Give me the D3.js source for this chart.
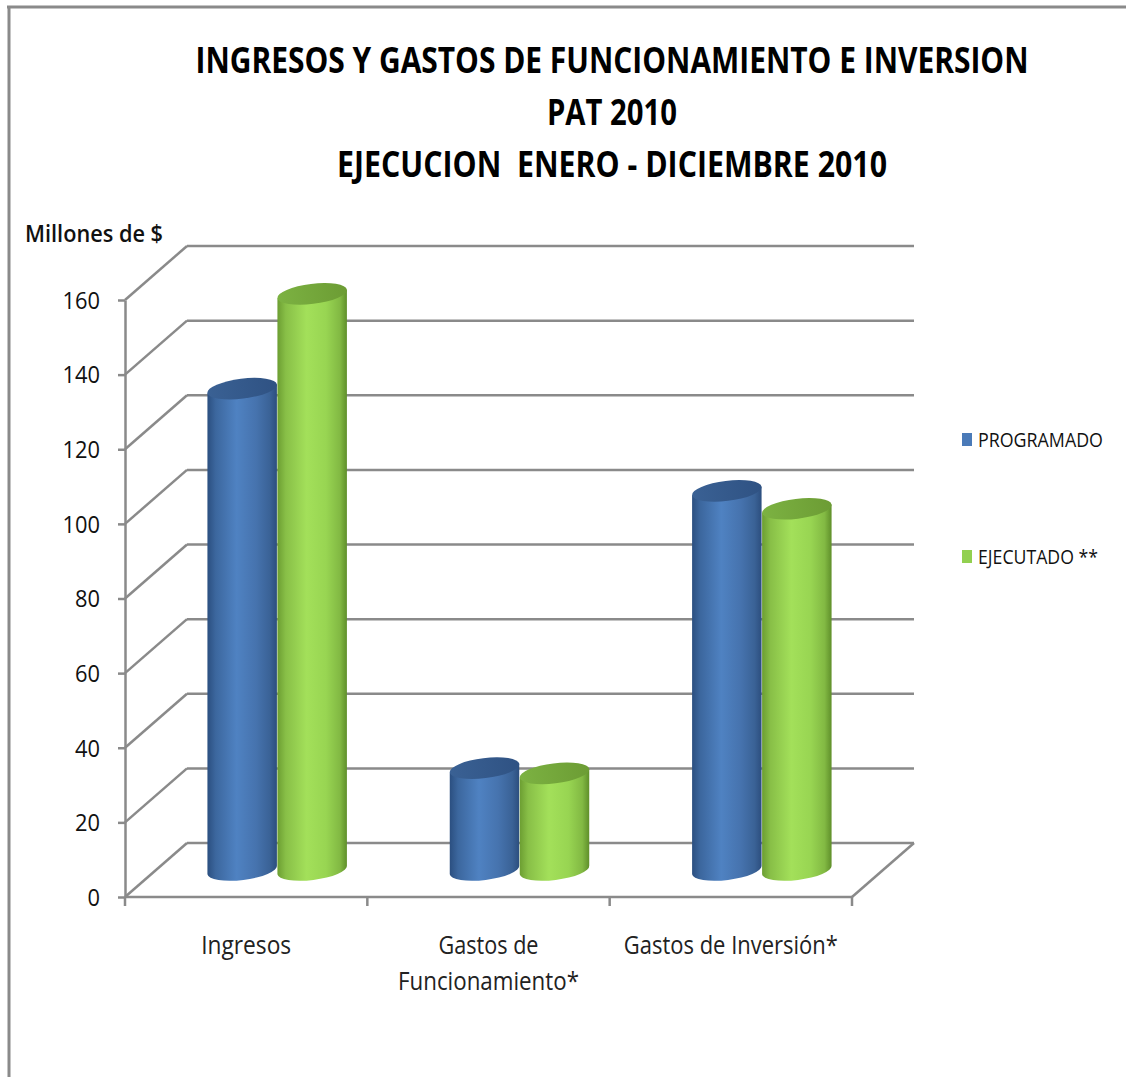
<!DOCTYPE html>
<html><head><meta charset="utf-8">
<script src="https://cdn.jsdelivr.net/npm/d3@7"></script>
<style>body{margin:0;background:#fff}svg{display:block}text{white-space:pre}</style>
</head><body>
<script>
// ---- data ----
const categories = ["Ingresos", "Gastos de Funcionamiento*", "Gastos de Inversión*"];
const categoryLines = [["Ingresos"], ["Gastos de", "Funcionamiento*"], ["Gastos de Inversión*"]];
const seriesNames = ["PROGRAMADO", "EJECUTADO **"];
const programado = [129, 27.3, 101.6];
const ejecutado = [154.4, 25.9, 96.8];
const yTicks = [0, 20, 40, 60, 80, 100, 120, 140, 160];
const titleLines = ["INGRESOS Y GASTOS DE FUNCIONAMIENTO E INVERSION", "PAT 2010", "EJECUCION  ENERO - DICIEMBRE 2010"];
const yAxisTitle = "Millones de $";

const W = 1126, H = 1077;
const svg = d3.select("body").append("svg").attr("width", W).attr("height", H);
const defs = svg.append("defs");

// 3D geometry
const depth = {dx: 62, dy: -54};
const y = d3.scaleLinear().domain([0, 160]).range([897, 300]);
const x = d3.scaleBand().domain(categories).range([125, 852]).padding(0);
const seriesX = d3.scaleBand().domain(seriesNames).range([-70, 70]).padding(0);
const gridColor = "#8a8a8a";
const font = "'Open Sans', 'Noto Sans', sans-serif";

// helper: text with vertical stretch and fixed width
function stretchText(g, str, px, py, size, sy, width, opts = {}) {
  const t = g.append("text")
    .attr("transform", `translate(${px},${py}) scale(1,${sy})`)
    .attr("x", 0).attr("y", 0)
    .attr("font-family", font).attr("font-size", size)
    .attr("font-weight", opts.weight || "normal")
    .attr("text-anchor", opts.anchor || "start")
    .attr("fill", opts.fill || "#111")
    .text(str);
  if (width) t.attr("textLength", width).attr("lengthAdjust", "spacingAndGlyphs");
  return t;
}

// border
svg.append("line").attr("x1", 7).attr("x2", W).attr("y1", 7).attr("y2", 7).attr("stroke", "#8a8a8a").attr("stroke-width", 3);
svg.append("line").attr("x1", 9).attr("x2", 9).attr("y1", 6).attr("y2", H).attr("stroke", "#8a8a8a").attr("stroke-width", 3);

// title
const titleY = [73, 125, 177];
const titleW = [833, 130, 550];
const tg = svg.append("g");
titleLines.forEach((t, i) => stretchText(tg, t, 612, titleY[i], 28, 1.28, titleW[i], {weight: "bold", anchor: "middle", fill: "#000"}));

// y axis title
stretchText(svg, yAxisTitle, 25, 242, 19, 1.2, 138, {weight: "600"});

const x0 = x.range()[0], x1 = x.range()[1];
const grid = svg.append("g").attr("fill", "none").attr("stroke", gridColor).attr("stroke-width", 2.5);
// back wall gridlines
grid.selectAll(".bg").data(yTicks).join("line")
  .attr("x1", x0 + depth.dx).attr("x2", x1 + depth.dx)
  .attr("y1", d => y(d) + depth.dy).attr("y2", d => y(d) + depth.dy);
// side wall diagonals
grid.selectAll(".sd").data(yTicks).join("line")
  .attr("x1", x0).attr("x2", x0 + depth.dx)
  .attr("y1", d => y(d)).attr("y2", d => y(d) + depth.dy);
// floor right edge
grid.append("line").attr("x1", x1).attr("y1", y(0)).attr("x2", x1 + depth.dx).attr("y2", y(0) + depth.dy);
// floor front edge
grid.append("line").attr("x1", x0).attr("y1", y(0)).attr("x2", x1).attr("y2", y(0));

// y axis
const yAxis = svg.append("g").attr("transform", `translate(${x0},0)`)
  .call(d3.axisLeft(y).tickValues(yTicks).tickSize(7).tickPadding(18).tickSizeOuter(0));
yAxis.select(".domain").attr("stroke", gridColor).attr("stroke-width", 2.5);
yAxis.selectAll(".tick line").attr("stroke", gridColor).attr("stroke-width", 2.5);
yAxis.selectAll(".tick text").attr("font-family", font).attr("font-size", 23).attr("fill", "#111")
  .attr("dy", "0.36em")
  .attr("textLength", d => String(d).length * 12.5).attr("lengthAdjust", "spacingAndGlyphs");

// category tick marks at band edges
const edges = categories.map(c => x(c)).concat([x1]);
svg.append("g").selectAll("line").data(edges).join("line")
  .attr("x1", d => d).attr("x2", d => d).attr("y1", y(0)).attr("y2", y(0) + 9)
  .attr("stroke", gridColor).attr("stroke-width", 2.5);

// category labels
const catW = {"Ingresos": 90, "Gastos de": 100, "Funcionamiento*": 181, "Gastos de Inversión*": 214};
const catG = svg.append("g");
categories.forEach((c, i) => {
  categoryLines[i].forEach((ln, j) => {
    stretchText(catG, ln, x(c) + x.bandwidth() / 2, 954 + j * 36, 21, 1.25, catW[ln], {anchor: "middle", fill: "#222"});
  });
});

// gradients
function bodyGrad(id, stops) {
  const g = defs.append("linearGradient").attr("id", id).attr("x1", 0).attr("x2", 1).attr("y1", 0).attr("y2", 0);
  stops.forEach(s => g.append("stop").attr("offset", s[0]).attr("stop-color", s[1]));
}
bodyGrad("blueBody", [[0, "#2b4f80"], [0.12, "#3c679e"], [0.42, "#4f82c2"], [0.7, "#4673ae"], [0.9, "#3a6296"], [1, "#2c4e7e"]]);
bodyGrad("greenBody", [[0, "#6c9e32"], [0.12, "#88bf47"], [0.42, "#a3e05a"], [0.7, "#98d552"], [0.9, "#82b943"], [1, "#5f8f2a"]]);
bodyGrad("blueTop", [[0, "#3a6194"], [1, "#2f5283"]]);
bodyGrad("greenTop", [[0, "#7cb242"], [1, "#6c9c34"]]);
const fills = {"PROGRAMADO": ["url(#blueBody)", "url(#blueTop)", "#4a7ab8"], "EJECUTADO **": ["url(#greenBody)", "url(#greenTop)", "#92d050"]};

// cylinders
const rx = 35, ry = 10, rot = -7;
const ca = Math.cos(rot * Math.PI / 180), sa = Math.sin(rot * Math.PI / 180);
const data = [];
seriesNames.forEach((s, si) => {
  const vals = si === 0 ? programado : ejecutado;
  categories.forEach((c, ci) => data.push({s, c, v: vals[ci]}));
});
const bars = svg.append("g");
data.forEach(d => {
  const cx = x(d.c) + x.bandwidth() / 2 + depth.dx / 2 + seriesX(d.s) + seriesX.bandwidth() / 2;
  const yb = y(0) + depth.dy / 2;
  const yt = y(d.v) + depth.dy / 2;
  const lx = cx - rx * ca, ldy = -rx * sa;
  const rxp = cx + rx * ca, rdy = rx * sa;
  const p = `M${lx},${yt + ldy} L${lx},${yb + ldy} A${rx},${ry} ${rot} 0 0 ${rxp},${yb + rdy} L${rxp},${yt + rdy} Z`;
  bars.append("path").attr("d", p).attr("fill", fills[d.s][0]);
  bars.append("ellipse").attr("cx", 0).attr("cy", 0).attr("rx", rx).attr("ry", ry)
    .attr("transform", `translate(${cx},${yt}) rotate(${rot})`).attr("fill", fills[d.s][1]);
});

// legend
const legY = [447, 564];
const legW = [125, 120];
const leg = svg.append("g");
seriesNames.forEach((s, i) => {
  leg.append("rect").attr("x", 962).attr("y", legY[i] - 14).attr("width", 10).attr("height", 13).attr("fill", fills[s][2]);
  stretchText(leg, s, 978, legY[i], 16, 1.2, legW[i]);
});
</script>
</body></html>
